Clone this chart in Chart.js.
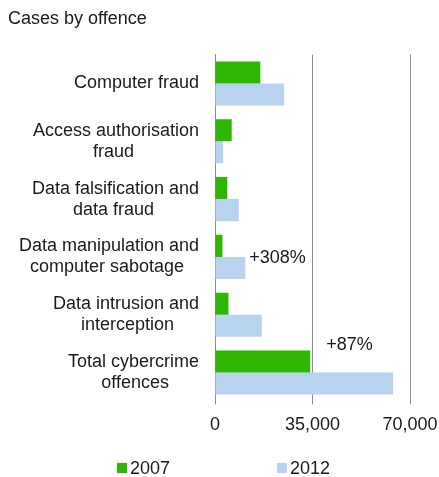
<!DOCTYPE html>
<html lang="en">
<head>
<meta charset="UTF-8">
<title>Cases by offence</title>
<style>
    body { margin: 0; background: #fff; }
    #wrap { position: relative; width: 439px; height: 477px; }
    .legend { position: absolute; top: 458px; left: 0; width: 439px; height: 20px;
              font: 18px "Liberation Sans", Arial, sans-serif; color: #1a1a1a; }
    .legend .item { position: absolute; top: 0; height: 20px; display: flex; align-items: center; line-height: 20px; }
    .legend i { display: inline-block; width: 10px; height: 10px; margin-right: 3px; }
</style>
</head>
<body>
<div id="wrap">
    <canvas id="myChart01"></canvas>
    <div class="legend" id="legend01"></div>
</div>
<script src="https://cdn.jsdelivr.net/npm/chart.js"></script>
<script>
    // 資料
    var categories = [
        ['Computer fraud'],
        ['Access authorisation', 'fraud'],
        ['Data falsification and', 'data fraud'],
        ['Data manipulation and', 'computer sabotage'],
        ['Data intrusion and', 'interception'],
        ['Total cybercrime', 'offences']
    ];
    var years = ['2007', '2012'];
    var cases2007 = [16274, 5998, 4419, 2660, 4829, 34180];
    var cases2012 = [24817, 2952, 8539, 10857, 16794, 63959];
    var xTicks = [0, 35000, 70000];
    var notes = ['+308%', '+87%'];
    var noteIndex = [3, 5];

    var colors = ['#2eb602', '#b7d3ef'];
    var fontFamily = '"Liberation Sans", Arial, sans-serif';

    // 多行標籤：短的那行補空白，讓每行置中、整塊靠右
    var measureCtx = document.createElement('canvas').getContext('2d');
    measureCtx.font = '18px ' + fontFamily;
    function centerLines(lines) {
        var widths = lines.map(function (s) { return measureCtx.measureText(s).width; });
        var maxW = Math.max.apply(null, widths);
        var spaceW = measureCtx.measureText(' ').width;
        return lines.map(function (s, i) {
            return s + ' '.repeat(Math.round((maxW - widths[i]) / 2 / spaceW));
        });
    }

    // +308% / +87% 的文字
    var noteLabels = {
        id: 'noteLabels',
        afterDatasetsDraw: function (chart) {
            var ctx = chart.ctx, x = chart.scales.x, y = chart.scales.y;
            ctx.save();
            ctx.font = '18px ' + fontFamily;
            ctx.fillStyle = '#1a1a1a';
            ctx.textBaseline = 'middle';
            ctx.textAlign = 'left';
            ctx.fillText(notes[0], x.getPixelForValue(cases2012[noteIndex[0]]) + 4, y.getPixelForValue(noteIndex[0]) + 1);
            ctx.fillText(notes[1], x.getPixelForValue(cases2007[noteIndex[1]]) + 16, y.getPixelForValue(noteIndex[1]) - 27);
            ctx.restore();
        }
    };

    Chart.defaults.font.family = fontFamily;
    Chart.defaults.font.size = 18;
    Chart.defaults.color = '#1a1a1a';

    var ctx01 = document.getElementById('myChart01');
    var chart01 = new Chart(ctx01, {
        type: 'bar',
        data: {
            labels: categories,
            datasets: [{
                label: years[0],
                data: cases2007,
                backgroundColor: colors[0]
            }, {
                label: years[1],
                data: cases2012,
                backgroundColor: colors[1]
            }]
        },
        options: {
            indexAxis: 'y',
            responsive: true,
            maintainAspectRatio: false,
            animation: false,
            categoryPercentage: 0.763,
            barPercentage: 1.0,
            layout: { padding: { left: 8, right: 29, top: 0, bottom: 31 } },
            plugins: {
                legend: { display: false },
                tooltip: { enabled: false },
                title: {
                    display: true,
                    text: 'Cases by offence',
                    align: 'start',
                    color: '#1a1a1a',
                    font: { size: 18, weight: 'normal' },
                    padding: { top: 8, bottom: 25 }
                }
            },
            scales: {
                x: {
                    min: xTicks[0],
                    max: xTicks[xTicks.length - 1],
                    afterBuildTicks: function (scale) {
                        scale.ticks = xTicks.map(function (v) { return { value: v }; });
                    },
                    afterFit: function (scale) {
                        // 不要讓最後一個刻度文字把圖往左擠
                        scale.paddingLeft = 0;
                        scale.paddingRight = 0;
                    },
                    ticks: {
                        padding: 10,
                        maxRotation: 0,
                        callback: function (value) { return value.toLocaleString('en-US'); }
                    },
                    grid: { color: '#8c8c8c', lineWidth: 1, drawTicks: true, tickLength: 3, tickColor: '#8c8c8c' },
                    border: { display: false }
                },
                y: {
                    grid: { display: false, drawTicks: false },
                    border: { display: true, color: '#8c8c8c', width: 1 },
                    ticks: {
                        padding: 16,
                        font: { size: 18, lineHeight: '21px' },
                        callback: function (value, index) { return centerLines(categories[index]); }
                    },
                    afterFit: function (scale) { scale.width = 207; }
                }
            }
        },
        plugins: [noteLabels]
    });

    // 圖例
    var legendPos = [117, 277];
    var legendBox = document.getElementById('legend01');
    years.forEach(function (item, key) {
        var span = document.createElement('span');
        span.className = 'item';
        span.style.left = legendPos[key] + 'px';
        span.innerHTML = '<i style="background:' + colors[key] + '"></i>' + item;
        legendBox.appendChild(span);
    });
</script>
</body>
</html>
